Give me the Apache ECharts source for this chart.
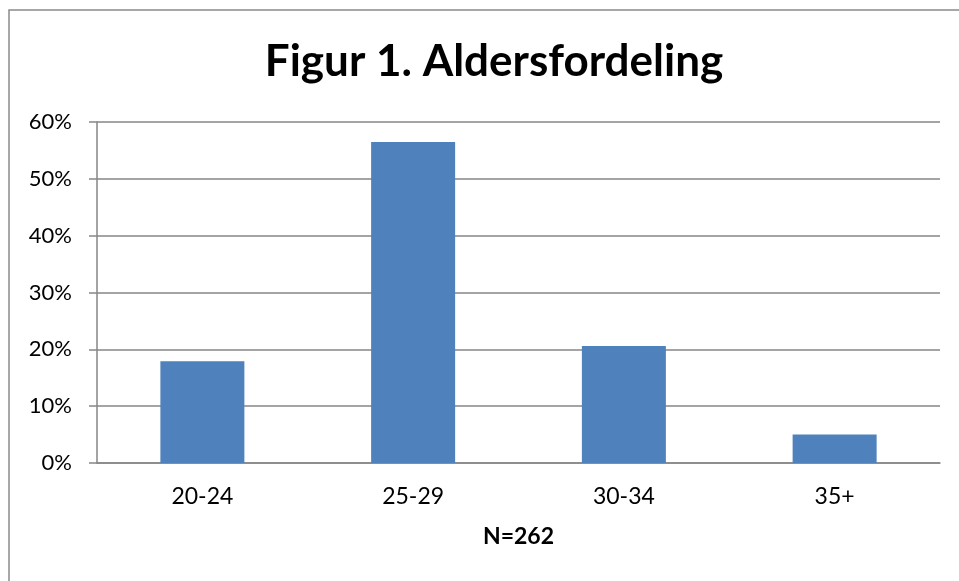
<!DOCTYPE html>
<html>
<head>
<meta charset="utf-8">
<script src="https://cdn.jsdelivr.net/npm/echarts@6/dist/echarts.min.js"></script>
<style>
  html, body { margin: 0; padding: 0; background: #fff; }
  #main { width: 959px; height: 581px; }
</style>
</head>
<body>
<div id="main"></div>
<script>
// aldersgrupper og andel (%)
var categories = ['20-24', '25-29', '30-34', '35+'];
var shares = [17.9, 56.5, 20.6, 5.0];
var yTicks = { min: 0, max: 60, step: 10 };

var chart = echarts.init(document.getElementById('main'), null, { renderer: 'canvas' });

var option = {
  backgroundColor: '#fff',
  animation: false,
  textStyle: { fontFamily: 'Lato' },
  title: {
    text: 'Figur 1. Aldersfordeling',
    left: 489,
    textAlign: 'center',
    top: 35,
    textStyle: { fontFamily: 'Lato', fontWeight: 'bold', fontSize: 44, color: '#000' }
  },
  graphic: [{
    type: 'rect',
    shape: { x: 9, y: 10, width: 1000, height: 1000 },
    style: { fill: 'none', stroke: '#8a8a8a', lineWidth: 1.5 },
    silent: true
  }],
  grid: { left: 97, right: 19, top: 122, bottom: 118, containLabel: false },
  xAxis: {
    type: 'category',
    data: categories,
    name: 'N=262',
    nameLocation: 'middle',
    nameGap: 62,
    nameTextStyle: { fontFamily: 'Lato', fontWeight: 'bold', fontSize: 23, color: '#000' },
    axisLine: { lineStyle: { color: '#868686', width: 1.5 } },
    axisTick: { show: false },
    axisLabel: { color: '#000', fontSize: 23, margin: 22, fontFamily: 'Lato' }
  },
  yAxis: {
    type: 'value',
    min: yTicks.min,
    max: yTicks.max,
    interval: yTicks.step,
    axisLine: { show: true, lineStyle: { color: '#868686', width: 1.5 } },
    axisTick: { show: true, inside: false, length: 8, lineStyle: { color: '#868686', width: 1.5 } },
    splitLine: { lineStyle: { color: '#868686', width: 1.5 } },
    axisLabel: {
      color: '#000', fontSize: 22, margin: 25, fontFamily: 'Lato',
      formatter: function (v) { return v + '%'; }
    }
  },
  series: [{
    type: 'bar',
    data: shares,
    barWidth: 84,
    itemStyle: { color: '#4F81BD' }
  }]
};

chart.setOption(option);
</script>
</body>
</html>
